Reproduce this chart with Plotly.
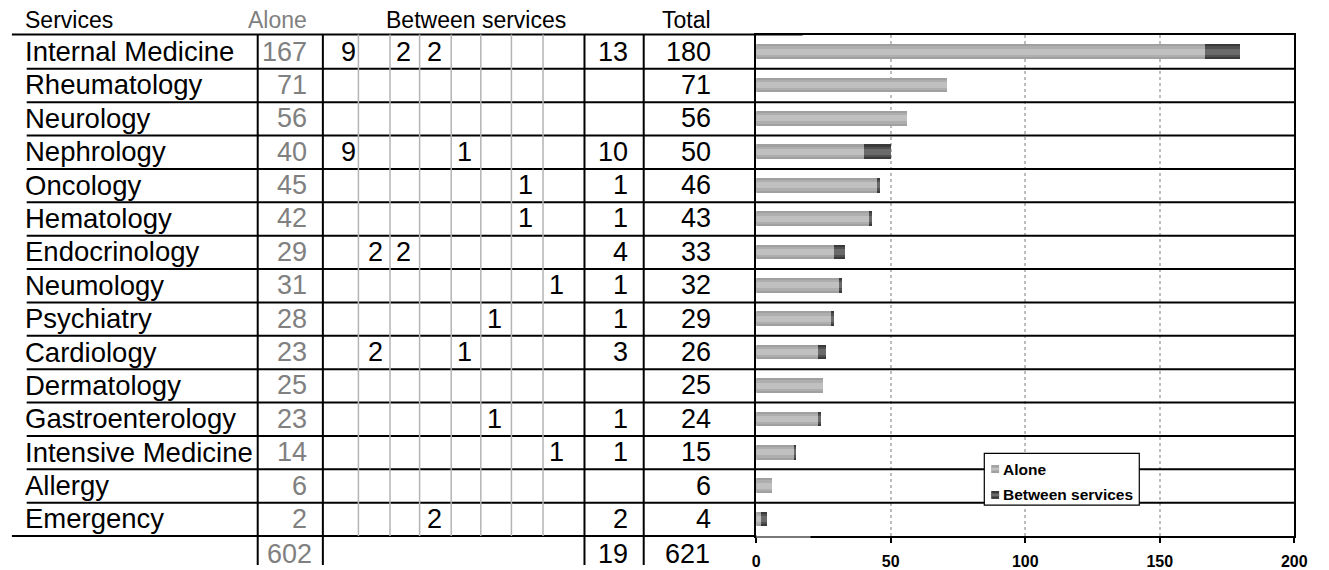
import plotly.graph_objects as go

# ---------------- data ----------------
services = ["Internal Medicine", "Rheumatology", "Neurology", "Nephrology", "Oncology",
            "Hematology", "Endocrinology", "Neumology", "Psychiatry", "Cardiology",
            "Dermatology", "Gastroenterology", "Intensive Medicine", "Allergy", "Emergency"]
alone = [167, 71, 56, 40, 45, 42, 29, 31, 28, 23, 25, 23, 14, 6, 2]
between_cells = [
    [9, None, 2, 2, None, None, None, None],
    [None] * 8,
    [None] * 8,
    [9, None, None, None, 1, None, None, None],
    [None, None, None, None, None, None, 1, None],
    [None, None, None, None, None, None, 1, None],
    [None, 2, 2, None, None, None, None, None],
    [None, None, None, None, None, None, None, 1],
    [None, None, None, None, None, 1, None, None],
    [None, 2, None, None, 1, None, None, None],
    [None] * 8,
    [None, None, None, None, None, 1, None, None],
    [None, None, None, None, None, None, None, 1],
    [None] * 8,
    [None, None, None, 2, None, None, None, None],
]
between_total = [13, None, None, 10, 1, 1, 4, 1, 1, 3, None, 1, 1, None, 2]
total = [180, 71, 56, 50, 46, 43, 33, 32, 29, 26, 25, 24, 15, 6, 4]
footer = {"alone": 602, "between": 19, "total": 621}
headers = {"services": "Services", "alone": "Alone", "between": "Between services", "total": "Total"}
series_names = ["Alone", "Between services"]
x_ticks = [0, 50, 100, 150, 200]

# ---------------- layout constants (pixels) ----------------
W, H = 1329, 570
FONT = "Liberation Sans"
def px(x): return x / W
def py(y): return 1 - y / H

TOP, BOTTOM = 35.5, 538.0
ROW_H = (BOTTOM - TOP) / len(services)
PLOT_L, PLOT_R = 762, 1307
BLACK_V = [257, 323, 588, 648]
GRAY_V = [359, 391, 421, 453, 483, 514, 546]
CELL_X = [349, 376, 405, 436, 466, 497, 528, 560]
GRAY = "#808080"

between_bar = [b if b is not None else 0 for b in between_total]

fig = go.Figure()

alone_layers = [(0.44, "#a0a0a0"), (0.32, "#aeaeae"), (0.18, "#c0c0c0")]
betw_layers = [(0.44, "#3a3a3a"), (0.32, "#505050"), (0.18, "#6a6a6a")]
for k, (w, c) in enumerate(alone_layers):
    fig.add_trace(go.Bar(y=services, x=alone, orientation="h", width=w,
                         marker=dict(color=c, line=dict(width=0)),
                         name=series_names[0], showlegend=False, hoverinfo="x+y"))
for k, (w, c) in enumerate(betw_layers):
    fig.add_trace(go.Bar(y=services, x=between_bar, base=alone, orientation="h", width=w,
                         marker=dict(color=c, line=dict(width=0)),
                         name=series_names[1], showlegend=False, hoverinfo="x+y"))

shapes = []
def hline(x0, x1, y, color="black", w=2):
    shapes.append(dict(type="line", xref="paper", yref="paper", x0=px(x0), x1=px(x1),
                       y0=py(y), y1=py(y), line=dict(color=color, width=w)))
def vline(x, y0, y1, color="black", w=2):
    shapes.append(dict(type="line", xref="paper", yref="paper", x0=px(x), x1=px(x),
                       y0=py(y0), y1=py(y1), line=dict(color=color, width=w)))
def rect(x0, y0, x1, y1, fill, line_color=None, lw=0):
    shapes.append(dict(type="rect", xref="paper", yref="paper", x0=px(x0), x1=px(x1),
                       y0=py(y1), y1=py(y0), fillcolor=fill,
                       line=dict(color=line_color or fill, width=lw)))

# table top / bottom lines
hline(8, 809, 34.5)
hline(8, PLOT_L, BOTTOM)
hline(PLOT_L, 817, BOTTOM + 1, color="#a0a0a0", w=1.5)
# row separators across table and chart
for k in range(1, len(services)):
    y = TOP + k * ROW_H
    hline(23, PLOT_R, y)
# verticals
for x in GRAY_V:
    vline(x, 34.5, BOTTOM, color="#b4b4b4", w=1.5)
for x in BLACK_V:
    vline(x, 34.5, 567)

ann = []
def text(x, y, s, anchor="right", color="black", size=27, bold=False):
    ann.append(dict(xref="paper", yref="paper", x=px(x), y=py(y), text=str(s),
                    showarrow=False, xanchor=anchor, yanchor="middle",
                    font=dict(family=FONT, size=size, color=color,
                              weight="bold" if bold else "normal")))

# header
HY = 20.5
text(19, HY, headers["services"], anchor="left", size=23)
text(309, HY, headers["alone"], anchor="right", color=GRAY, size=23)
text(478, HY, headers["between"], anchor="center", size=23)
text(718, HY, headers["total"], anchor="right", size=23)

for i, s in enumerate(services):
    yc = TOP + (i + 0.5) * ROW_H - 0.5
    text(19, yc, s, anchor="left", size=27.5)
    text(309, yc, alone[i], color=GRAY)
    for j, v in enumerate(between_cells[i]):
        if v is not None:
            text(CELL_X[j], yc, v, anchor="center")
    if between_total[i] is not None:
        text(634, yc, between_total[i])
    text(718, yc, total[i])

FY = 556
text(314, FY, footer["alone"], color=GRAY)
text(634, FY, footer["between"])
text(717, FY, footer["total"])

# legend (box, swatches, labels)
LEG = (993, 455, 1150, 507)
rect(*LEG, fill="white", line_color="black", lw=1.2)
leg_rows = [470.7, 496.7]
leg_cols = [(alone_layers[0][1], alone_layers[2][1]), (betw_layers[0][1], betw_layers[2][1])]
for (yy, (c_out, c_in), name) in zip(leg_rows, leg_cols, series_names):
    rect(1000, yy - 4, 1008, yy + 4, fill=c_out)
    rect(1000, yy - 1.5, 1008, yy + 1.5, fill=c_in)
    text(1010, yy, name, anchor="left", size=15.5, bold=True)

fig.update_layout(
    autosize=True, margin=dict(l=0, r=0, t=0, b=0, pad=0),
    paper_bgcolor="white", plot_bgcolor="white",
    barmode="overlay", bargap=0,
    shapes=shapes, annotations=ann,
    font=dict(family=FONT),
    showlegend=False,
    xaxis=dict(domain=[px(PLOT_L), px(PLOT_R)], range=[0, 200], tickvals=x_ticks,
               showgrid=True, gridcolor="#bdbdbd", griddash="dot", gridwidth=1.5,
               zeroline=False, showline=True, mirror=True, linecolor="black", linewidth=2,
               ticks="outside", ticklen=5, tickcolor="black", tickwidth=1.5,
               ticklabelstandoff=5,
               tickfont=dict(family=FONT, size=16, color="black", weight="bold")),
    yaxis=dict(domain=[py(BOTTOM), py(TOP)], type="category",
               categoryorder="array", categoryarray=services,
               range=[len(services) - 0.5, -0.5], showticklabels=False,
               showgrid=False, zeroline=False, showline=True, mirror=True,
               linecolor="black", linewidth=2, ticks=""),
)

fig.write_html(
    "out.html",
    config={"displayModeBar": False, "responsive": True},
    default_width="100vw",
    default_height="100vh; position:fixed; left:0; top:0",
    post_script=("document.documentElement.style.overflow='hidden';"
                 "document.body.style.margin='0';document.body.style.overflow='hidden';"
                 "Plotly.Plots.resize(document.getElementById('{plot_id}'));"),
)
